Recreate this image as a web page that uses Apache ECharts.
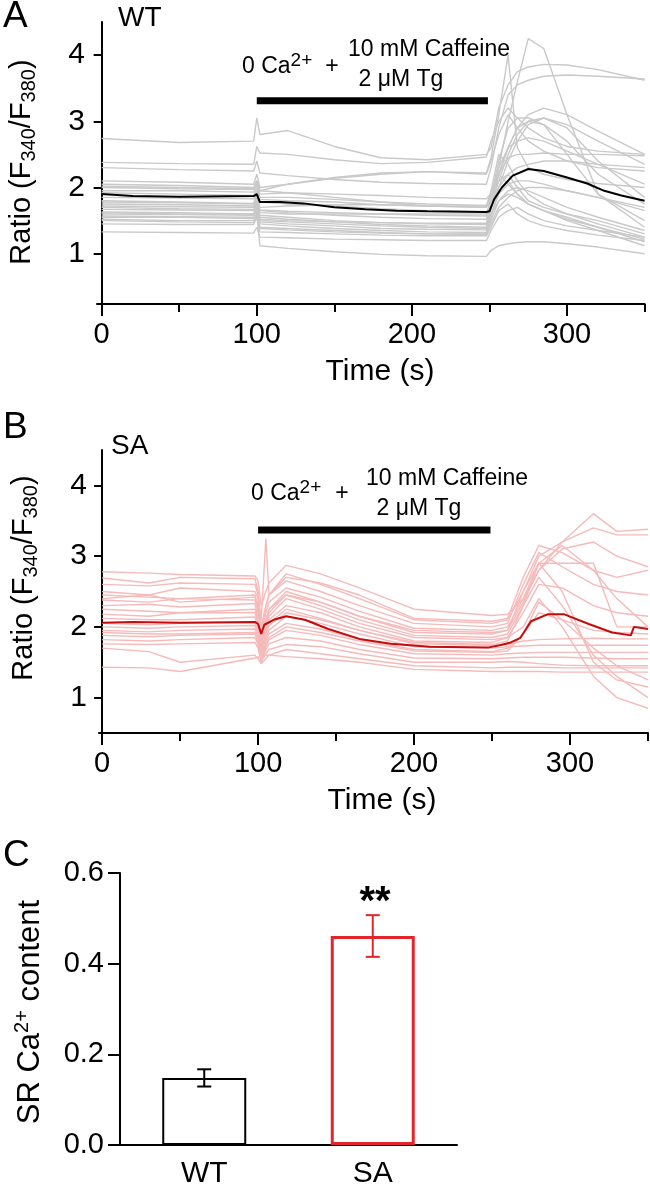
<!DOCTYPE html>
<html><head><meta charset="utf-8">
<script src="https://cdn.jsdelivr.net/npm/echarts/dist/echarts.min.js"></script>
<style>html,body{margin:0;padding:0;background:#fff}#c{width:650px;height:1189px}</style>
</head><body><div id="c"></div>
<script>
const FONT = '"Liberation Sans", Arial, sans-serif';

// ---------- Panel A (WT) ----------
const timeWT = [0, 50, 98, 100, 102, 120, 150, 180, 210, 248, 251, 256, 262, 268, 275, 285, 300, 320, 350];
const wtTraces = [
  [2.74, 2.68, 2.70, 3.05, 2.80, 2.86, 2.62, 2.45, 2.42, 2.50, 2.60, 3.20, 3.55, 3.75, 3.82, 3.86, 3.85, 3.78, 3.62],
  [2.38, 2.36, 2.35, 2.62, 2.52, 2.50, 2.42, 2.36, 2.38, 2.46, 2.70, 3.00, 3.20, 3.05, 2.90, 2.75, 2.62, 2.55, 2.50],
  [2.30, 2.27, 2.25, 2.40, 2.22, 2.18, 2.12, 2.08, 2.06, 2.05, 2.30, 2.90, 3.40, 3.55, 3.62, 3.68, 3.70, 3.68, 3.64],
  [2.10, 2.08, 2.05, 2.20, 2.00, 2.05, 2.14, 2.20, 2.24, 2.22, 2.45, 3.10, 4.00, 2.60, 2.30, 2.20, 2.12, 2.06, 2.00],
  [2.05, 2.03, 2.00, 2.10, 1.95, 1.92, 1.85, 1.78, 1.72, 1.70, 1.80, 2.30, 3.00, 3.60, 4.25, 4.10, 3.10, 1.90, 1.40],
  [2.00, 1.98, 1.97, 2.10, 1.90, 1.92, 1.90, 1.88, 1.85, 1.83, 1.90, 2.20, 2.60, 2.90, 3.10, 3.20, 3.10, 2.85, 2.50],
  [1.95, 1.95, 1.93, 2.05, 1.85, 1.85, 1.82, 1.78, 1.75, 1.73, 1.85, 2.10, 2.50, 2.80, 3.00, 3.05, 2.95, 2.70, 2.35],
  [1.85, 1.84, 1.83, 1.95, 1.78, 1.75, 1.72, 1.68, 1.65, 1.63, 1.75, 2.00, 2.40, 2.70, 2.95, 3.05, 2.90, 2.40, 1.85],
  [1.80, 1.78, 1.76, 1.90, 1.70, 1.72, 1.74, 1.74, 1.72, 1.70, 1.90, 2.20, 2.45, 2.50, 2.50, 2.52, 2.50, 2.50, 2.48],
  [1.75, 1.74, 1.72, 1.85, 1.65, 1.62, 1.58, 1.55, 1.53, 1.52, 1.80, 2.30, 2.60, 2.70, 2.75, 2.70, 2.55, 2.35, 2.05],
  [1.70, 1.68, 1.67, 1.80, 1.58, 1.55, 1.50, 1.47, 1.45, 1.44, 1.70, 2.10, 2.20, 2.00, 1.80, 1.70, 1.60, 1.50, 1.30],
  [1.67, 1.66, 1.65, 1.75, 1.55, 1.52, 1.48, 1.44, 1.42, 1.40, 1.90, 2.20, 2.05, 1.90, 1.75, 1.65, 1.52, 1.40, 1.22],
  [1.63, 1.62, 1.60, 1.75, 1.50, 1.48, 1.45, 1.42, 1.40, 1.38, 1.60, 1.90, 2.05, 2.10, 2.10, 2.05, 1.95, 1.85, 1.70],
  [1.60, 1.59, 1.58, 1.70, 1.48, 1.45, 1.42, 1.38, 1.37, 1.36, 1.70, 2.20, 2.60, 2.90, 3.00, 2.95, 2.50, 1.90, 1.50],
  [1.57, 1.56, 1.55, 1.65, 1.45, 1.42, 1.38, 1.35, 1.33, 1.32, 1.55, 1.95, 2.10, 1.90, 1.75, 1.65, 1.55, 1.40, 1.18],
  [1.55, 1.55, 1.53, 1.60, 1.12, 1.08, 1.03, 0.99, 0.97, 0.96, 1.05, 1.12, 1.15, 1.17, 1.18, 1.18, 1.15, 1.10, 1.00],
  [1.52, 1.50, 1.50, 1.62, 1.40, 1.38, 1.35, 1.32, 1.30, 1.30, 1.50, 1.80, 1.90, 1.85, 1.75, 1.65, 1.50, 1.35, 1.12],
  [1.50, 1.48, 1.47, 1.60, 1.38, 1.36, 1.33, 1.31, 1.30, 1.29, 1.45, 1.70, 1.85, 1.95, 2.00, 2.00, 1.95, 1.85, 1.65],
  [1.45, 1.44, 1.44, 1.55, 1.33, 1.32, 1.30, 1.28, 1.27, 1.27, 1.40, 1.65, 1.75, 1.60, 1.50, 1.42, 1.35, 1.28, 1.20],
  [1.33, 1.32, 1.31, 1.40, 1.25, 1.24, 1.22, 1.21, 1.20, 1.20, 1.35, 1.55, 1.65, 1.70, 1.60, 1.50, 1.42, 1.35, 1.25],
  [2.02, 2.00, 1.98, 2.10, 1.95, 2.05, 2.15, 2.22, 2.24, 2.20, 2.40, 2.80, 3.10, 2.90, 2.70, 2.55, 2.40, 2.30, 2.25],
  [1.92, 1.90, 1.88, 2.00, 1.82, 1.80, 1.78, 1.74, 1.72, 1.72, 1.95, 2.50, 2.35, 2.10, 1.90, 1.75, 1.60, 1.45, 1.25],
  [1.72, 1.71, 1.70, 1.80, 1.62, 1.60, 1.60, 1.60, 1.60, 1.60, 1.75, 2.00, 2.20, 2.30, 2.35, 2.40, 2.40, 2.35, 2.30],
  [1.62, 1.60, 1.60, 1.70, 1.52, 1.50, 1.48, 1.47, 1.46, 1.46, 1.60, 1.80, 1.95, 2.00, 1.95, 1.85, 1.70, 1.55, 1.35],
  [1.78, 1.77, 1.75, 1.88, 1.66, 1.64, 1.62, 1.60, 1.58, 1.57, 1.85, 2.40, 2.90, 3.05, 3.05, 2.95, 2.70, 2.20, 1.75]
];
const wtMeanTime = [0, 20, 50, 98, 100, 102, 115, 130, 150, 170, 190, 210, 248, 250, 253, 258, 265, 275, 285, 300, 313, 324, 335, 350];
const wtMean =     [1.90, 1.87, 1.86, 1.87, 1.90, 1.78, 1.78, 1.76, 1.70, 1.67, 1.65, 1.64, 1.63, 1.64, 1.82, 2.00, 2.18, 2.28, 2.25, 2.15, 2.06, 1.95, 1.88, 1.80];

// ---------- Panel B (SA) ----------
const timeSA = [0, 30, 50, 98, 100, 102, 105, 107, 118, 140, 165, 200, 250, 260, 270, 280, 295, 315, 330, 350];
const saTraces = [
  [2.78, 2.76, 2.74, 2.72, 2.65, 2.30, 2.50, 2.62, 2.87, 2.75, 2.55, 2.25, 2.16, 2.18, 2.40, 2.80, 3.10, 3.20, 3.00, 2.85],
  [2.69, 2.62, 2.70, 2.68, 2.50, 2.10, 3.25, 2.45, 2.75, 2.60, 2.40, 2.10, 2.05, 2.10, 2.50, 3.00, 3.20, 3.60, 3.35, 3.38],
  [2.50, 2.45, 2.55, 2.50, 2.40, 1.90, 2.30, 2.45, 2.65, 2.50, 2.30, 2.05, 2.00, 2.05, 2.60, 3.05, 2.85, 2.60, 2.50, 2.45],
  [2.45, 2.42, 2.40, 2.45, 2.30, 1.85, 2.20, 2.35, 2.55, 2.42, 2.22, 1.98, 1.95, 2.00, 2.40, 2.90, 2.90, 2.90, 2.00, 2.00],
  [2.38, 2.35, 2.40, 2.38, 2.20, 1.80, 2.10, 2.25, 2.50, 2.35, 2.15, 1.92, 1.90, 1.95, 2.50, 2.90, 2.50, 1.50, 1.25, 1.15],
  [2.30, 2.32, 2.28, 2.33, 2.10, 1.75, 2.05, 2.20, 2.45, 2.30, 2.10, 1.88, 1.85, 1.90, 2.30, 2.70, 2.30, 1.60, 1.30, 1.00],
  [2.25, 2.22, 2.20, 2.25, 2.10, 1.70, 2.00, 2.15, 2.40, 2.25, 2.05, 1.85, 1.82, 1.85, 2.00, 2.40, 2.00, 1.30, 1.00, 0.85],
  [2.18, 2.15, 2.20, 2.20, 2.05, 1.70, 1.95, 2.10, 2.30, 2.20, 2.00, 1.80, 1.78, 1.85, 2.20, 2.60, 2.55, 2.30, 2.20, 2.15],
  [2.12, 2.10, 2.10, 2.14, 2.00, 1.65, 1.90, 2.05, 2.25, 2.12, 1.95, 1.76, 1.74, 1.75, 1.80, 1.82, 1.83, 1.84, 1.83, 1.83],
  [2.00, 1.98, 2.00, 2.02, 1.90, 1.60, 1.85, 1.95, 2.15, 2.05, 1.90, 1.72, 1.70, 1.72, 1.73, 1.74, 1.74, 1.74, 1.74, 1.74],
  [1.95, 1.93, 1.95, 1.97, 1.85, 1.58, 1.80, 1.90, 2.05, 1.97, 1.82, 1.68, 1.65, 1.70, 1.90, 2.20, 2.10, 1.95, 1.92, 1.90],
  [1.88, 1.86, 1.88, 1.90, 1.80, 1.55, 1.72, 1.82, 1.95, 1.88, 1.75, 1.62, 1.60, 1.62, 1.63, 1.64, 1.64, 1.64, 1.64, 1.64],
  [1.82, 1.80, 1.82, 1.85, 1.75, 1.50, 1.68, 1.76, 1.85, 1.80, 1.68, 1.56, 1.55, 1.56, 1.57, 1.57, 1.57, 1.56, 1.55, 1.55],
  [1.76, 1.75, 1.76, 1.78, 1.70, 1.50, 1.62, 1.68, 1.75, 1.72, 1.62, 1.50, 1.50, 1.51, 1.50, 1.48, 1.46, 1.45, 1.45, 1.45],
  [1.70, 1.65, 1.50, 1.60, 1.55, 1.48, 1.55, 1.60, 1.68, 1.62, 1.55, 1.45, 1.42, 1.43, 1.43, 1.43, 1.42, 1.42, 1.42, 1.42],
  [1.43, 1.42, 1.37, 1.56, 1.57, 1.60, 1.60, 1.60, 1.58, 1.55, 1.50, 1.40, 1.37, 1.37, 1.37, 1.37, 1.36, 1.36, 1.36, 1.36],
  [2.05, 2.03, 2.05, 2.06, 1.95, 1.65, 1.90, 2.02, 2.20, 2.10, 1.95, 1.78, 1.75, 1.80, 2.30, 2.90, 3.15, 2.80, 2.40, 2.00],
  [1.92, 1.90, 1.90, 1.92, 1.80, 1.55, 1.75, 1.85, 2.00, 1.92, 1.80, 1.66, 1.64, 1.66, 1.90, 2.35, 2.10, 1.70, 1.45, 1.25],
  [2.40, 2.45, 2.35, 2.42, 2.25, 1.80, 2.10, 2.25, 2.45, 2.35, 2.15, 1.95, 1.92, 1.95, 2.35, 2.80, 3.20, 3.40, 3.30, 3.30],
  [2.60, 2.58, 2.62, 2.60, 2.45, 2.00, 2.30, 2.45, 2.70, 2.62, 2.45, 2.12, 2.08, 2.12, 2.70, 3.15, 3.05, 2.80, 2.70, 2.80]
];
const saMeanTime = [0, 20, 50, 98, 100, 102, 104, 110, 118, 130, 145, 165, 185, 210, 248, 255, 262, 268, 275, 286, 296, 312, 327, 339, 341, 350];
const saMean =     [2.06, 2.07, 2.06, 2.07, 2.04, 1.90, 2.03, 2.10, 2.15, 2.10, 1.97, 1.83, 1.76, 1.72, 1.71, 1.74, 1.78, 1.84, 2.08, 2.18, 2.18, 2.04, 1.92, 1.88, 2.00, 1.97];

// stimulus window (s) and level of the bar in each panel
const stimWindow = [100, 249];
const stimLevelWT = 3.31;
const stimLevelSA = 3.37;

// ---------- Panel C ----------
const barGroups = ['WT', 'SA'];
const barMeans = [0.148, 0.461];
const barErr = [0.019, 0.046];

const ratioTicks = [1, 2, 3, 4];
const timeTicks = [0, 100, 200, 300];
const timeMinorTicks = [50, 150, 250, 350];

const pts = (t, v) => t.map((x, i) => [x, v[i]]);

const GRAY = '#c9c9c9', PINK = '#f6baba', RED = '#e3262b';

const series = [];
wtTraces.forEach(tr => series.push({type:'line', xAxisIndex:0, yAxisIndex:0, data:pts(timeWT, tr), showSymbol:false, silent:true, z:1, lineStyle:{color:GRAY, width:1.4}}));
series.push({type:'line', xAxisIndex:0, yAxisIndex:0, data:pts(wtMeanTime, wtMean), showSymbol:false, silent:true, z:3, lineStyle:{color:'#000', width:2}});
series.push({type:'line', xAxisIndex:0, yAxisIndex:0, data:stimWindow.map(t => [t, stimLevelWT]), showSymbol:false, silent:true, z:4, lineStyle:{color:'#000', width:7, cap:'butt'}});

saTraces.forEach(tr => series.push({type:'line', xAxisIndex:2, yAxisIndex:1, data:pts(timeSA, tr), showSymbol:false, silent:true, z:1, lineStyle:{color:PINK, width:1.4}}));
series.push({type:'line', xAxisIndex:2, yAxisIndex:1, data:pts(saMeanTime, saMean), showSymbol:false, silent:true, z:3, lineStyle:{color:'#c40c0c', width:2}});
series.push({type:'line', xAxisIndex:2, yAxisIndex:1, data:stimWindow.map(t => [t, stimLevelSA]), showSymbol:false, silent:true, z:4, lineStyle:{color:'#000', width:7, cap:'butt'}});

series.push({type:'bar', xAxisIndex:4, yAxisIndex:2, barWidth:84, silent:true,
  data: barMeans.map((m, i) => ({value:m, itemStyle:{color:'#fff', borderColor: i ? RED : '#000', borderWidth: i ? 3 : 2}}))});
series.push({type:'custom', xAxisIndex:4, yAxisIndex:2, silent:true, z:5,
  data: barMeans.map((m, i) => [i, m - barErr[i], m + barErr[i]]),
  renderItem: (params, api) => {
    const lo = api.coord([api.value(0), api.value(1)]);
    const hi = api.coord([api.value(0), api.value(2)]);
    const c = params.dataIndex ? RED : '#000';
    const w = 7;
    const st = {stroke:c, lineWidth:2};
    return {type:'group', children:[
      {type:'line', shape:{x1:lo[0], y1:lo[1], x2:hi[0], y2:hi[1]}, style:st},
      {type:'line', shape:{x1:lo[0]-w, y1:lo[1], x2:lo[0]+w, y2:lo[1]}, style:st},
      {type:'line', shape:{x1:hi[0]-w, y1:hi[1], x2:hi[0]+w, y2:hi[1]}, style:st}
    ]};
  }});

const axLine = {show:true, lineStyle:{color:'#000', width:2}};
function timeAxes(grid, min) {
  return [
    {type:'value', gridIndex:grid, min:min, max:350, position:'bottom', axisLine:axLine, splitLine:{show:false},
     axisTick:{show:true, customValues:timeTicks, length:12, lineStyle:{color:'#000', width:2}},
     axisLabel:{customValues:timeTicks, fontSize:29, fontFamily:FONT, color:'#000', margin:16}},
    {type:'value', gridIndex:grid, min:min, max:350, position:'bottom', axisLine:{show:false}, splitLine:{show:false},
     axisTick:{show:true, customValues:timeMinorTicks, length:8, lineStyle:{color:'#000', width:2}},
     axisLabel:{show:false}}
  ];
}
function ratioAxis(grid, min) {
  return {type:'value', gridIndex:grid, min:min, max:4.5, axisLine:axLine, splitLine:{show:false},
    axisTick:{show:true, customValues:ratioTicks, length:8, lineStyle:{color:'#000', width:2}},
    axisLabel:{customValues:ratioTicks, fontSize:30, fontFamily:FONT, color:'#000', margin:12}};
}

const richAxis = {
  n:{fontSize:29, fontFamily:FONT, fill:'#000', lineHeight:34},
  s:{fontSize:20, fontFamily:FONT, fill:'#000', lineHeight:14, verticalAlign:'bottom'}
};
const richAnn = {
  n:{fontSize:23, fontFamily:FONT, fill:'#000', lineHeight:32},
  p:{fontSize:19, fontFamily:FONT, fill:'#000', lineHeight:12, verticalAlign:'top'}
};
function txt(x, y, text, size, opts) {
  return Object.assign({type:'text', x:x, y:y, silent:true, z:10,
    style:Object.assign({text:text, fontSize:size, fontFamily:FONT, fill:'#000', align:'left', verticalAlign:'middle'}, (opts && opts.style) || {})},
    (opts && opts.el) || {});
}

const graphic = [
  txt(3, 17, 'A', 37), txt(118, 18, 'WT', 28),
  txt(3, 428, 'B', 37), txt(111, 446, 'SA', 28),
  txt(3, 856, 'C', 37),
  // panel A annotation
  txt(242, 67, '{n|0 Ca}{p|2+}', 23, {style:{rich:richAnn}}),
  txt(332, 67, '+', 23, {style:{align:'center'}}),
  txt(429, 50, '10 mM Caffeine', 23, {style:{align:'center'}}),
  txt(401, 80, '2 μM Tg', 23, {style:{align:'center'}}),
  // panel B annotation
  txt(251, 494, '{n|0 Ca}{p|2+}', 23, {style:{rich:richAnn}}),
  txt(342, 494, '+', 23, {style:{align:'center'}}),
  txt(447, 479, '10 mM Caffeine', 23, {style:{align:'center'}}),
  txt(419, 509, '2 μM Tg', 23, {style:{align:'center'}}),
  // axis names
  txt(22, 162, '{n|Ratio (F}{s|340}{n|/F}{s|380}{n|)}', 29, {style:{rich:richAxis, align:'center'}, el:{rotation:Math.PI/2}}),
  txt(24, 578, '{n|Ratio (F}{s|340}{n|/F}{s|380}{n|)}', 29, {style:{rich:richAxis, align:'center'}, el:{rotation:Math.PI/2}}),
  txt(380, 372, 'Time (s)', 30, {style:{align:'center'}}),
  txt(382, 801, 'Time (s)', 30, {style:{align:'center'}}),
  txt(30, 1012, '{n|SR Ca}{p|2+}{n| content}', 31, {style:{align:'center', rich:{
    n:{fontSize:31, fontFamily:FONT, fill:'#000', lineHeight:36},
    p:{fontSize:20, fontFamily:FONT, fill:'#000', lineHeight:14, verticalAlign:'top'}}}, el:{rotation:Math.PI/2}}),
  txt(375, 903, '**', 40, {style:{align:'center', fontWeight:'bold'}})
];

const option = {
  animation:false,
  backgroundColor:'#fff',
  grid:[
    {left:97, top:22, width:547.6, height:282},
    {left:99, top:450, width:549, height:283},
    {left:120, top:873, width:337, height:272}
  ],
  xAxis:[
    ...timeAxes(0, -3),
    ...timeAxes(1, -2),
    {type:'category', gridIndex:2, data:barGroups, axisLine:axLine, axisTick:{show:false},
     axisLabel:{fontSize:30, fontFamily:FONT, color:'#000', margin:14}}
  ],
  yAxis:[
    ratioAxis(0, 0.24),
    ratioAxis(1, 0.5),
    {type:'value', gridIndex:2, min:0, max:0.6, interval:0.2, axisLine:axLine, splitLine:{show:false},
     axisTick:{show:true, length:12, lineStyle:{color:'#000', width:2}},
     axisLabel:{fontSize:29, fontFamily:FONT, color:'#000', margin:16, formatter:v => v.toFixed(1)}}
  ],
  series:series,
  graphic:graphic
};
const chart = echarts.init(document.getElementById('c'), null, {renderer:'canvas', width:650, height:1189});
chart.setOption(option);
</script></body></html>
